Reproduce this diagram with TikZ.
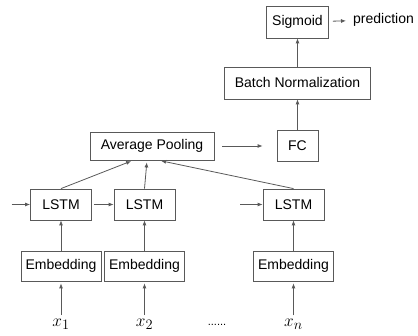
\documentclass[tikz,border=0pt]{standalone}
\usepackage{fontspec}
\setmainfont{Liberation Sans}
\usepackage{tikz}
\usetikzlibrary{arrows.meta, positioning}
\definecolor{linegray}{gray}{0.35}

\begin{document}
\begin{tikzpicture}[x=1pt,y=1pt,>={Latex[length=5pt,width=4pt]},node distance=60pt,on grid,
  block/.style={draw=linegray,line width=0.8pt,inner sep=2pt,font=\fontsize{14}{16}\selectfont},
  lstm/.style={block,minimum width=61pt,minimum height=31pt},
  embed/.style={block,minimum width=80pt,minimum height=30pt},
  flow/.style={->,draw=linegray,line width=0.8pt}]

    \useasboundingbox (0,0) rectangle (418,336);

    \node[embed] (E1) at (61,70) {Embedding};
    \node[embed] (E2) [right=83.5pt of E1] {Embedding};
    \node[embed] (E3) [right=149pt of E2] {Embedding};

    \node[lstm] (L1) [above=61.5pt of E1] {LSTM};
    \node[lstm] (L2) [above=61.5pt of E2] {LSTM};
    \node[lstm] (L3) [above=61.5pt of E3] {LSTM};

    \node (X1) [below=58pt of E1] {\fontsize{19}{21}\selectfont$x_1$};
    \node (X2) [below=58pt of E2] {\fontsize{19}{21}\selectfont$x_2$};
    \node (X3) [below=58pt of E3] {\fontsize{19}{21}\selectfont$x_n$};
    \node (dots) at (217,11) {\fontsize{11}{12}\selectfont ......};

    \node[block,minimum width=124pt,minimum height=28pt] (AP) at (152,190) {Average Pooling};
    \node[block,minimum width=41pt,minimum height=31pt] (FC) [right=145.5pt of AP] {FC};
    \node[block,minimum width=146pt,minimum height=32pt] (BN) [above=63pt of FC] {Batch Normalization};
    \node[block,minimum width=62pt,minimum height=32pt] (SG) [above=61pt of BN] {Sigmoid};
    \node[font=\fontsize{14}{16}\selectfont,anchor=west,inner sep=4pt] (PR) at (349,316) {prediction};

    \node[coordinate,left=49.5pt of L1] (in1) {};
    \node[coordinate,left=53.5pt of L3] (in3) {};

    % inputs
    \path (X1) edge [flow,shorten >=2pt] (E1);
    \path (X2) edge [flow,shorten >=2pt] (E2);
    \path (X3) edge [flow,shorten >=2pt] (E3);
    \path (E1) edge [flow] (L1);
    \path (E2) edge [flow] (L2);
    \path (E3) edge [flow] (L3);

    % recurrence
    \path (in1) edge [flow] (L1);
    \path (L1) edge [flow,shorten <=2pt] (L2);
    \path (in3) edge [flow] (L3);

    % pooling
    \draw[flow,shorten >=2pt] (L1.north) -- ([xshift=-19pt]AP.south);
    \draw[flow,shorten >=2pt] (L2.north) -- ([xshift=-5pt]AP.south);
    \draw[flow,shorten >=2pt] (L3.north) -- ([xshift=7pt]AP.south);

    \path (AP) edge [flow,shorten <=8pt,shorten >=14pt] (FC);
    \path (FC) edge [flow] (BN);
    \path (BN) edge [flow] (SG);
    \path (SG) edge [flow,shorten <=4pt,shorten >=3pt] (PR);

\end{tikzpicture}
\end{document}
